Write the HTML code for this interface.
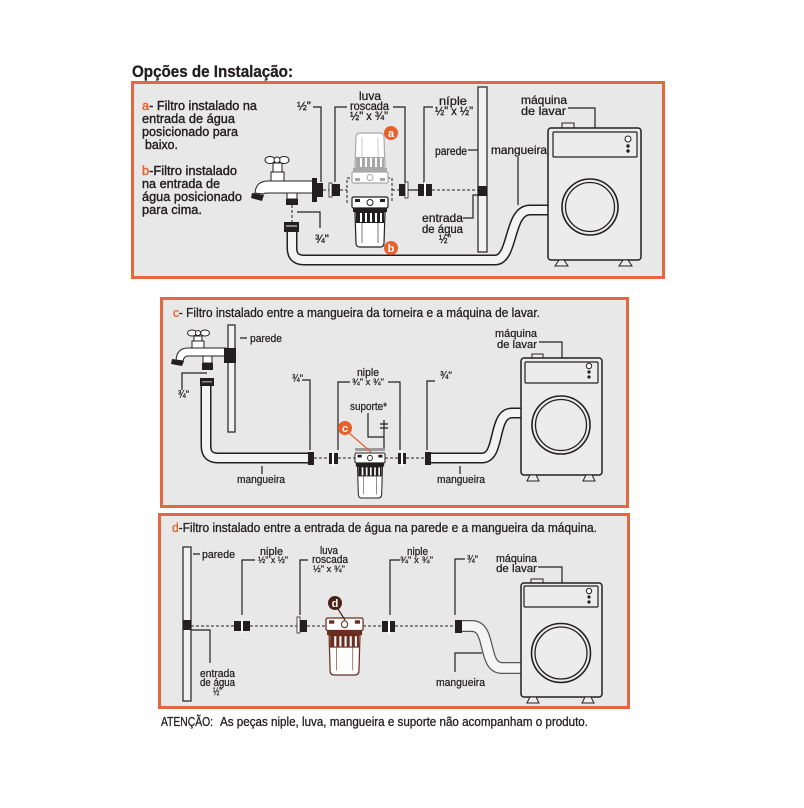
<!DOCTYPE html>
<html><head><meta charset="utf-8">
<style>html,body{margin:0;padding:0;background:#fff}svg{display:block}</style>
</head>
<body>
<svg xmlns="http://www.w3.org/2000/svg" width="804" height="808" viewBox="0 0 804 808" font-family="'Liberation Sans', Arial, sans-serif">
<defs>
<g id="flt">
  <rect x="0" y="0" width="36" height="11" rx="1.5" fill="#fff" stroke="currentColor" stroke-width="1.2"/>
  <circle cx="18" cy="5.5" r="3" fill="#fff" stroke="currentColor" stroke-width="1"/>
  <rect x="3" y="2" width="5" height="3" fill="currentColor"/>
  <rect x="28" y="2" width="5" height="3" fill="currentColor"/>
  <rect x="1" y="11" width="34" height="4" fill="currentColor"/>
  <path d="M3,15 H33 L32,46 Q32,50 28,50 H8 Q4,50 4,46 Z" fill="#fff" stroke="currentColor" stroke-width="1.2"/>
  <rect x="4" y="15" width="28" height="11" fill="currentColor"/>
  <rect x="8" y="16" width="2" height="9" fill="#fff"/>
  <rect x="13" y="16" width="2" height="9" fill="#fff"/>
  <rect x="18" y="16" width="2" height="9" fill="#fff"/>
  <rect x="23" y="16" width="2" height="9" fill="#fff"/>
  <rect x="28" y="16" width="2" height="9" fill="#fff"/>
  <path d="M10,26 V46 M26,26 V46" stroke="currentColor" stroke-width="0.6" fill="none"/>
</g>
</defs>

<rect width="804" height="808" fill="#fff"/>

<text x="132" y="77" font-size="17" font-weight="bold" fill="#231f20" stroke="#231f20" stroke-width="0.3" textLength="161" lengthAdjust="spacingAndGlyphs">Opções de Instalação:</text>

<!-- Panels -->
<rect x="132.5" y="82.5" width="531" height="195" fill="#e8e8e8" stroke="#e4673f" stroke-width="3"/>
<rect x="161.5" y="298.5" width="466" height="208" fill="#e8e8e8" stroke="#e4673f" stroke-width="3"/>
<rect x="159.5" y="514.5" width="469" height="193" fill="#e8e8e8" stroke="#e4673f" stroke-width="3"/>

<!-- ================= PANEL A ================= -->
<g font-size="13" fill="#231f20" stroke="#231f20" stroke-width="0.4">
  <text x="142" y="110" textLength="115" lengthAdjust="spacingAndGlyphs"><tspan fill="#e8602c" stroke="#e8602c">a</tspan>- Filtro instalado na</text>
  <text x="142" y="123" textLength="93" lengthAdjust="spacingAndGlyphs">entrada de água</text>
  <text x="142" y="136" textLength="96" lengthAdjust="spacingAndGlyphs">posicionado para</text>
  <text x="145" y="149" textLength="33" lengthAdjust="spacingAndGlyphs">baixo.</text>
  <text x="142" y="175" textLength="95" lengthAdjust="spacingAndGlyphs"><tspan fill="#e8602c" stroke="#e8602c">b</tspan>-Filtro instalado</text>
  <text x="142" y="188" textLength="78" lengthAdjust="spacingAndGlyphs">na entrada de</text>
  <text x="142" y="201" textLength="100" lengthAdjust="spacingAndGlyphs">água posicionado</text>
  <text x="142" y="214" textLength="60" lengthAdjust="spacingAndGlyphs">para cima.</text>
</g>

<g font-size="12" fill="#231f20" stroke="#231f20" stroke-width="0.3">
  <text x="297" y="110" textLength="14" lengthAdjust="spacingAndGlyphs">½"</text>
  <text x="359" y="100" textLength="22" lengthAdjust="spacingAndGlyphs">luva</text>
  <text x="350" y="110" textLength="39" lengthAdjust="spacingAndGlyphs">roscada</text>
  <text x="350" y="120" textLength="38" lengthAdjust="spacingAndGlyphs">½" x ¾"</text>
  <text x="439" y="105" textLength="28" lengthAdjust="spacingAndGlyphs">níple</text>
  <text x="435" y="115" textLength="38" lengthAdjust="spacingAndGlyphs">½" x ½"</text>
  <text x="435" y="155" textLength="32" lengthAdjust="spacingAndGlyphs">parede</text>
  <text x="422" y="222" textLength="41" lengthAdjust="spacingAndGlyphs">entrada</text>
  <text x="422" y="233" textLength="41" lengthAdjust="spacingAndGlyphs">de água</text>
  <text x="439" y="243" textLength="12" lengthAdjust="spacingAndGlyphs">½"</text>
  <text x="315" y="243" textLength="14" lengthAdjust="spacingAndGlyphs">¾"</text>
  <text x="521" y="104" textLength="46" lengthAdjust="spacingAndGlyphs">máquina</text>
  <text x="521" y="115" textLength="45" lengthAdjust="spacingAndGlyphs">de lavar</text>
  <text x="491" y="154" textLength="56" lengthAdjust="spacingAndGlyphs">mangueira</text>
</g>

<!-- leaders a -->
<path d="M313,107 H321 V182 M347,107 H335 V182 M393,107 H405 V182 M433,107 H424 V183 M468,150 H478 M463,218 H473 V195 H478 M297,212 H320 V228 M568,108 H595 V128 M518,157 V205"
      stroke="#231f20" stroke-width="1.2" fill="none"/>

<!-- wall a -->
<rect x="478" y="87" width="9" height="165" fill="#f2f2f2" stroke="#231f20" stroke-width="1.2"/>
<rect x="478" y="186" width="9" height="10" fill="#231f20"/>

<!-- hose a -->
<path d="M292,232 V248 Q292,260 304,260 H495 C514,260 508,210 530,210 H549" stroke="#231f20" stroke-width="11" fill="none"/>
<path d="M292,232 V248 Q292,260 304,260 H495 C514,260 508,210 530,210 H549" stroke="#f3f3f3" stroke-width="8" fill="none"/>

<!-- tap a -->
<g stroke="#231f20" stroke-width="1" fill="#fff">
  <ellipse cx="270" cy="160" rx="5" ry="3.5"/>
  <ellipse cx="284" cy="160" rx="5" ry="3.5"/>
  <circle cx="277" cy="160" r="3"/>
  <rect x="273" y="163" width="9" height="10"/>
  <rect x="271" y="172" width="13" height="9"/>
  <path d="M313,181 H268 Q256,181 255,193 L263,194 Q264,193 268,193 H313 Z"/>
  <rect x="287" y="193" width="10" height="6"/>
</g>
<polygon points="252,193 264,195 262,201 251,198" fill="#231f20"/>
<rect x="286" y="199" width="12" height="6" fill="#231f20"/>
<path d="M292,205 V222" stroke="#231f20" stroke-width="1" stroke-dasharray="3,2"/>
<rect x="284" y="222" width="15" height="10" fill="#231f20"/>
<rect x="286" y="225" width="11" height="2" fill="#888"/>
<rect x="312" y="178" width="5" height="24" fill="#231f20"/>
<rect x="316" y="183" width="7" height="14" fill="#231f20"/>

<!-- fittings a -->
<path d="M323,190 H329 M340,190 H347 M392,190 H399 M432,190 H478" stroke="#231f20" stroke-width="1" stroke-dasharray="3,2"/>
<path d="M408,190 H418" stroke="#231f20" stroke-width="1.2"/>
<rect x="329" y="183" width="3" height="14" fill="#fff" stroke="#231f20" stroke-width="0.8"/>
<rect x="332" y="184" width="8" height="12" fill="#231f20"/>
<rect x="399" y="184" width="6" height="12" fill="#231f20"/>
<rect x="405" y="182" width="3" height="16" fill="#fff" stroke="#231f20" stroke-width="0.8"/>
<rect x="418" y="184" width="14" height="12" fill="#231f20"/>
<rect x="424" y="182" width="2" height="16" fill="#fff"/>

<!-- dashed box and filters a/b -->
<path d="M347,203 V178 H392 V203" stroke="#231f20" stroke-width="1" fill="none" stroke-dasharray="3,2"/>
<use href="#flt" transform="translate(352,183) scale(1,-1)" style="color:#a8a8a8"/>
<use href="#flt" transform="translate(352,197)" style="color:#231f20"/>
<circle cx="391" cy="133" r="7" fill="#e8602c"/>
<text x="391" y="137" font-size="11" font-weight="bold" fill="#fff" text-anchor="middle">a</text>
<circle cx="391" cy="248" r="7" fill="#e8602c"/>
<text x="391" y="252" font-size="11" font-weight="bold" fill="#fff" text-anchor="middle">b</text>

<!-- machine a -->
<g stroke="#231f20" fill="#ececec">
  <rect x="562" y="123" width="12" height="5" stroke-width="1"/>
  <rect x="548" y="128" width="93" height="132" rx="3" stroke-width="1.5"/>
  <rect x="553" y="132" width="84" height="25" rx="1" stroke-width="1.2"/>
  <circle cx="590" cy="207" r="28" fill="none" stroke-width="1.6"/>
  <circle cx="590" cy="207" r="24.5" fill="none" stroke-width="1.3"/>
  <polygon points="555,266 568,266 564,260 559,260" stroke-width="1"/>
  <polygon points="619,266 632,266 628,260 623,260" stroke-width="1"/>
  <circle cx="628" cy="139" r="3" fill="#fff" stroke-width="1"/>
</g>
<circle cx="628" cy="146" r="1.7" fill="#231f20"/>
<circle cx="628" cy="151" r="1.7" fill="#231f20"/>

<!-- ================= PANEL C ================= -->
<text x="173" y="317" font-size="12.5" fill="#231f20" stroke="#231f20" stroke-width="0.3" textLength="367" lengthAdjust="spacingAndGlyphs"><tspan fill="#e8602c" stroke="#e8602c">c</tspan>- Filtro instalado entre a mangueira da torneira e a máquina de lavar.</text>

<g font-size="11" fill="#231f20" stroke="#231f20" stroke-width="0.25">
  <text x="250" y="342" textLength="32" lengthAdjust="spacingAndGlyphs">parede</text>
  <text x="178" y="398" textLength="11" lengthAdjust="spacingAndGlyphs">¾"</text>
  <text x="292" y="382" textLength="11" lengthAdjust="spacingAndGlyphs">¾"</text>
  <text x="357" y="376" textLength="22" lengthAdjust="spacingAndGlyphs">niple</text>
  <text x="352" y="385" font-size="9.5" textLength="32" lengthAdjust="spacingAndGlyphs">¾" x ¾"</text>
  <text x="350" y="410" textLength="37" lengthAdjust="spacingAndGlyphs">suporte*</text>
  <text x="237" y="483" textLength="48" lengthAdjust="spacingAndGlyphs">mangueira</text>
  <text x="440" y="379" textLength="12" lengthAdjust="spacingAndGlyphs">¾"</text>
  <text x="437" y="483" textLength="48" lengthAdjust="spacingAndGlyphs">mangueira</text>
  <text x="495" y="337" textLength="42" lengthAdjust="spacingAndGlyphs">máquina</text>
  <text x="497" y="348" textLength="40" lengthAdjust="spacingAndGlyphs">de lavar</text>
</g>

<path d="M240,338 H247 M207,373 H182 V390 M302,380 H310 V450 M350,382 H338 V450 M388,382 H400 V450 M368,413 V437 H384 M384,420 V448 M380,424 H388 M380,428 H388 M435,381 H427 V450 M262,466 V474 M460,466 V474 M539,342 H562 V358"
      stroke="#231f20" stroke-width="1.2" fill="none"/>

<!-- wall c -->
<rect x="228" y="325" width="7" height="107" fill="#f2f2f2" stroke="#231f20" stroke-width="1.2"/>

<!-- hoses c -->
<path d="M206,386 V446 Q206,458 218,458 H309" stroke="#231f20" stroke-width="11" fill="none"/>
<path d="M206,386 V446 Q206,458 218,458 H309" stroke="#f3f3f3" stroke-width="8" fill="none"/>
<path d="M431,458 H482 C501,458 492,413 512,413 H522" stroke="#231f20" stroke-width="11" fill="none"/>
<path d="M431,458 H482 C501,458 492,413 512,413 H522" stroke="#f3f3f3" stroke-width="8" fill="none"/>

<!-- tap c -->
<g stroke="#231f20" stroke-width="1" fill="#fff">
  <ellipse cx="192" cy="333" rx="4.5" ry="3"/>
  <ellipse cx="205" cy="333" rx="4.5" ry="3"/>
  <circle cx="198" cy="333" r="2.5"/>
  <rect x="194" y="336" width="8" height="6"/>
  <rect x="192" y="341" width="12" height="7"/>
  <path d="M226,348 H188 Q177,348 176,360 L183,361 Q184,356 188,356 H226 Z"/>
  <rect x="203" y="356" width="9" height="7"/>
</g>
<polygon points="172,359 184,361 182,366 171,364" fill="#231f20"/>
<rect x="202" y="363" width="11" height="7" fill="#231f20"/>
<rect x="224" y="348" width="12" height="15" fill="#231f20"/>
<rect x="200" y="378" width="14" height="8" fill="#231f20"/>
<rect x="202" y="381" width="10" height="1.5" fill="#888"/>

<!-- fittings c -->
<path d="M314,458 H329 M338,458 H355 M385,458 H398 M406,458 H425" stroke="#231f20" stroke-width="1" stroke-dasharray="3,2"/>
<rect x="308" y="452" width="6" height="13" fill="#231f20"/>
<rect x="329" y="453" width="9" height="11" fill="#231f20"/>
<rect x="332" y="451" width="2" height="15" fill="#fff"/>
<rect x="398" y="453" width="8" height="11" fill="#231f20"/>
<rect x="401" y="451" width="2" height="15" fill="#fff"/>
<rect x="425" y="452" width="6" height="13" fill="#231f20"/>

<!-- support + filter c -->
<rect x="355" y="448" width="30" height="3" fill="#9a9a9a"/>
<use href="#flt" transform="translate(355,453) scale(0.833,0.9)" style="color:#231f20"/>
<path d="M349,433 L371,452" stroke="#e8602c" stroke-width="1.2"/>
<circle cx="345" cy="428" r="7" fill="#e8602c"/>
<text x="345" y="432" font-size="11" font-weight="bold" fill="#fff" text-anchor="middle">c</text>

<!-- machine c -->
<g stroke="#231f20" fill="#ececec">
  <rect x="532" y="354" width="11" height="5" stroke-width="1"/>
  <rect x="521" y="358" width="81" height="117" rx="3" stroke-width="1.5"/>
  <rect x="525" y="362" width="73" height="21" rx="1" stroke-width="1.2"/>
  <circle cx="561" cy="425" r="29" fill="none" stroke-width="1.6"/>
  <circle cx="561" cy="425" r="25.5" fill="none" stroke-width="1.3"/>
  <polygon points="527,481 539,481 536,475 530,475" stroke-width="1"/>
  <polygon points="583,481 595,481 592,475 586,475" stroke-width="1"/>
  <circle cx="589" cy="366" r="2.7" fill="#fff" stroke-width="1"/>
</g>
<circle cx="589" cy="372" r="1.6" fill="#231f20"/>
<circle cx="589" cy="377" r="1.6" fill="#231f20"/>

<!-- ================= PANEL D ================= -->
<text x="172" y="532" font-size="12.5" fill="#231f20" stroke="#231f20" stroke-width="0.3" textLength="425" lengthAdjust="spacingAndGlyphs"><tspan fill="#e8602c" stroke="#e8602c">d</tspan>-Filtro instalado entre a entrada de água na parede e a mangueira da máquina.</text>

<g font-size="11" fill="#231f20" stroke="#231f20" stroke-width="0.25">
  <text x="202" y="558" textLength="33" lengthAdjust="spacingAndGlyphs">parede</text>
  <text x="200" y="677" textLength="35" lengthAdjust="spacingAndGlyphs">entrada</text>
  <text x="200" y="686" textLength="35" lengthAdjust="spacingAndGlyphs">de água</text>
  <text x="213" y="695" textLength="9" lengthAdjust="spacingAndGlyphs">½"</text>
  <text x="260" y="555" textLength="23" lengthAdjust="spacingAndGlyphs">niple</text>
  <text x="258" y="563" font-size="9.5" textLength="30" lengthAdjust="spacingAndGlyphs">½" x ½"</text>
  <text x="320" y="554" textLength="18" lengthAdjust="spacingAndGlyphs">luva</text>
  <text x="312" y="563" textLength="36" lengthAdjust="spacingAndGlyphs">roscada</text>
  <text x="313" y="572" font-size="9.5" textLength="32" lengthAdjust="spacingAndGlyphs">½" x ¾"</text>
  <text x="407" y="555" textLength="21" lengthAdjust="spacingAndGlyphs">niple</text>
  <text x="400" y="563" font-size="9.5" textLength="33" lengthAdjust="spacingAndGlyphs">¾" x ¾"</text>
  <text x="467" y="563" textLength="11" lengthAdjust="spacingAndGlyphs">¾"</text>
  <text x="436" y="686" textLength="49" lengthAdjust="spacingAndGlyphs">mangueira</text>
  <text x="496" y="562" textLength="41" lengthAdjust="spacingAndGlyphs">máquina</text>
  <text x="496" y="572" textLength="41" lengthAdjust="spacingAndGlyphs">de lavar</text>
</g>

<path d="M193,554 H200 M191,630 H210 V663 M255,560 H242 V615 M308,560 H300 V615 M400,560 H390 V615 M465,559 H455 V615 M482,653 H455 V672 M538,567 H562 V583"
      stroke="#231f20" stroke-width="1.2" fill="none"/>

<!-- wall d -->
<rect x="183" y="547" width="8" height="154" fill="#f2f2f2" stroke="#231f20" stroke-width="1.2"/>
<rect x="183" y="620" width="8" height="10" fill="#231f20"/>

<!-- hose d -->
<path d="M462,626 H472 C492,626 482,668 502,668 H522" stroke="#555" stroke-width="12" fill="none"/>
<path d="M462,626 H472 C492,626 482,668 502,668 H522" stroke="#f5f5f5" stroke-width="9.5" fill="none"/>

<!-- fittings d -->
<path d="M191,626 H234 M250,626 H297 M307,626 H326 M363,626 H382 M395,626 H455" stroke="#231f20" stroke-width="1" stroke-dasharray="3,2"/>
<rect x="234" y="621" width="16" height="10" fill="#231f20"/>
<rect x="241" y="619" width="2" height="14" fill="#fff"/>
<rect x="297" y="617" width="3" height="16" fill="#fff" stroke="#231f20" stroke-width="0.8"/>
<rect x="300" y="620" width="7" height="12" fill="#231f20"/>
<rect x="382" y="621" width="13" height="11" fill="#231f20"/>
<rect x="388" y="619" width="2" height="15" fill="#fff"/>
<rect x="455" y="620" width="7" height="13" fill="#231f20"/>

<!-- filter d -->
<use href="#flt" transform="translate(326,618) scale(1.03,1.14)" style="color:#6b2d1f"/>
<path d="M338,609 L345,620" stroke="#4a2218" stroke-width="1.2"/>
<circle cx="335" cy="603" r="7" fill="#4a2218"/>
<text x="335" y="607" font-size="11" font-weight="bold" fill="#fff" text-anchor="middle">d</text>

<!-- machine d -->
<g stroke="#231f20" fill="#ececec">
  <rect x="531" y="579" width="12" height="5" stroke-width="1"/>
  <rect x="521" y="583" width="81" height="114" rx="3" stroke-width="1.5"/>
  <rect x="524" y="586" width="74" height="21" rx="1" stroke-width="1.2"/>
  <circle cx="561" cy="653" r="29.5" fill="none" stroke-width="1.6"/>
  <circle cx="561" cy="653" r="26" fill="none" stroke-width="1.3"/>
  <polygon points="527,703 539,703 536,697 530,697" stroke-width="1"/>
  <polygon points="582,703 594,703 591,697 585,697" stroke-width="1"/>
  <circle cx="589" cy="591" r="2.7" fill="#fff" stroke-width="1"/>
</g>
<circle cx="589" cy="597" r="1.6" fill="#231f20"/>
<circle cx="589" cy="602" r="1.6" fill="#231f20"/>

<!-- Attention -->
<text x="161" y="726" font-size="12.5" fill="#231f20" stroke="#231f20" stroke-width="0.3" textLength="52" lengthAdjust="spacingAndGlyphs">ATENÇÃO:</text>
<text x="220" y="726" font-size="12.5" fill="#231f20" stroke="#231f20" stroke-width="0.3" textLength="368" lengthAdjust="spacingAndGlyphs">As peças niple, luva, mangueira e suporte não acompanham o produto.</text>
</svg>
</body></html>
